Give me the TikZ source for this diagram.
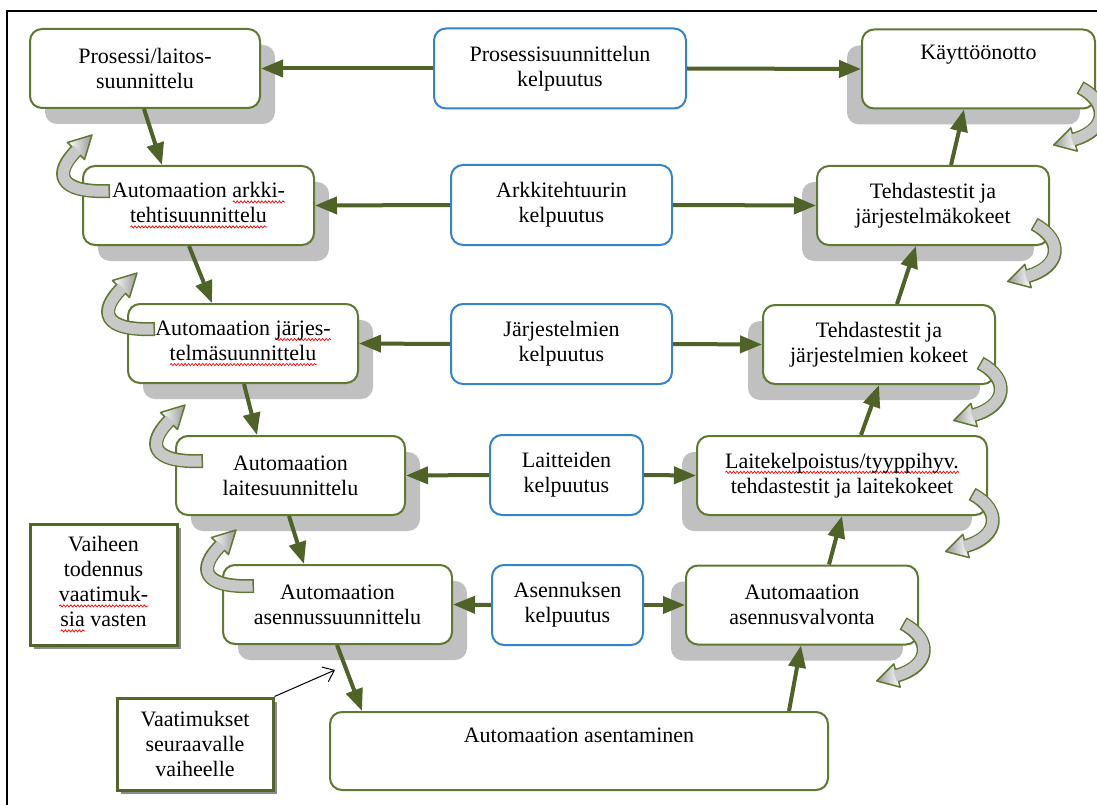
\documentclass[tikz,border=0pt]{standalone}
\usepackage{fontspec}
\setmainfont{Liberation Serif}
\usetikzlibrary{arrows.meta,shadows,decorations.pathmorphing}

\definecolor{boxgreen}{RGB}{96,120,50}
\definecolor{arrowgreen}{RGB}{79,98,40}
\definecolor{kelpblue}{RGB}{52,132,204}
\definecolor{shadowgray}{RGB}{192,192,192}
\definecolor{curlgray}{RGB}{200,200,200}

% red wavy underline (spell-check marks)
\newsavebox\spwbox
\newcommand\spw[1]{\sbox\spwbox{#1}\rlap{\tikz[baseline=0pt, x=1pt, y=1pt]
  \draw[sharp corners, red, line width=0.7pt, decorate, decoration={snake, amplitude=1.1pt, segment length=3.5pt}]
  (0,-4) -- (\the\wd\spwbox,-4);}\usebox\spwbox}

\tikzset{
  txt/.style={align=center, font=\fontsize{22}{25}\selectfont, inner sep=0pt},
  phase/.style={txt, draw=boxgreen, line width=2pt, rounded corners=12pt, fill=white, minimum height=79pt},
  lphase/.style={phase, general shadow={fill=shadowgray, shadow xshift=15pt, shadow yshift=-16pt}},
  rphase/.style={phase, general shadow={fill=shadowgray, shadow xshift=-15pt, shadow yshift=-16pt}},
  check/.style={txt, draw=kelpblue, line width=2pt, rounded corners=12pt, fill=white, minimum height=80pt},
  note/.style={txt, draw=boxgreen!85!black, line width=3pt, fill=white,
    general shadow={fill=black!45, shadow xshift=4pt, shadow yshift=-4pt}},
  flow/.style={draw=arrowgreen, line width=4pt, -{Triangle[length=22pt,width=17pt]}},
  lcurl/.pic={
    \draw[boxgreen, line width=1.5pt, line join=round, left color=white, right color=gray!80]
      (2.5,-5.5) -- (10,-30) -- (-14.5,-22.5) -- cycle;
    \draw[boxgreen, line width=14pt] (28,26) .. controls (-25,28) and (-28,8) .. (-6,-14);
    \draw[curlgray, line width=11pt, shorten <=1.5pt, shorten >=-2pt]
      (28,26) .. controls (-25,28) and (-28,8) .. (-6,-14);
  },
  rcurl/.pic={
    \draw[boxgreen, line width=1.5pt, line join=round, left color=gray!80, right color=white]
      (-18.8,41.6) -- (-42.3,35.5) -- (-25.2,18.4) -- cycle;
    \draw[boxgreen, line width=14pt] (-16,-22) .. controls (14,-6) and (11,21) .. (-22,30);
    \draw[curlgray, line width=11pt, shorten <=1.5pt, shorten >=-2pt]
      (-16,-22) .. controls (14,-6) and (11,21) .. (-22,30);
  },
}

\begin{document}
\begin{tikzpicture}[x=1pt, y={(0pt,-1pt)}]
\useasboundingbox (0,0) rectangle (1097,805);
\fill[white] (0,0) rectangle (1097,805);

% frame
\draw[line width=2pt] (7,805) -- (7,11) -- (1097,11);

% design side
\node[lphase, minimum width=230pt] (b1) at (145,68.5) {Prosessi/laitos-\\suunnittelu};
\node[lphase, minimum width=231pt] (b4) at (198.5,205.5) {Automaation \spw{arkki-}\\\spw{tehtisuunnittelu}};
\node[lphase, minimum width=230pt] (b7) at (243,343.5) {Automaation \spw{järjes-}\\\spw{telmäsuunnittelu}};
\node[lphase, minimum width=229pt] (b10) at (290.5,475.5) {Automaation\\laitesuunnittelu};
\node[lphase, minimum width=229pt] (b13) at (337.5,604.5) {Automaation\\asennussuunnittelu};

% qualification boxes
\node[check, minimum width=252pt] (b2) at (560,68.5) {Prosessisuunnittelun\\kelpuutus};
\node[check, minimum width=221pt] (b5) at (561.5,205) {Arkkitehtuurin\\kelpuutus};
\node[check, minimum width=221pt] (b8) at (561.5,344) {Järjestelmien\\kelpuutus};
\node[check, minimum width=153pt] (b11) at (566.5,475) {Laitteiden\\kelpuutus};
\node[check, minimum width=151pt] (b14) at (567.5,605) {Asennuksen\\kelpuutus};

% test side
\node[rphase, minimum width=233pt] (b3) at (978.5,69) {Käyttöönotto\\\strut};
\node[rphase, minimum width=232pt] (b6) at (933,205.5) {Tehdastestit ja\\järjestelmäkokeet};
\node[rphase, minimum width=232pt] (b9) at (879,344.5) {Tehdastestit ja\\järjestelmien kokeet};
\node[rphase, minimum width=290pt] (b12) at (842,475.5) {\spw{Laitekelpoistus/tyyppihyv.}\\tehdastestit ja laitekokeet};
\node[rphase, minimum width=232pt] (b15) at (802,605) {Automaation\\asennusvalvonta};

% installation
\node[phase, minimum width=498pt, minimum height=78pt] (b16) at (579,751) {Automaation asentaminen\\\strut};

% notes
\node[note, minimum width=147pt, minimum height=121pt] (n1) at (103.5,584.5)
  {Vaiheen\\todennus\\\spw{vaatimuk-}\\\spw{sia} vasten};
\node[note, minimum width=156pt, minimum height=92pt] (n2) at (195,744)
  {Vaatimukset\\seuraavalle\\vaiheelle};

% qualification arrows
\draw[flow] (b2.west) -- (b1.east);
\draw[flow] (b2.east) -- (b3.west);
\draw[flow] (b5.west) -- (b4.east);
\draw[flow] (b5.east) -- (b6.west);
\draw[flow] (b8.west) -- (b7.east);
\draw[flow] (b8.east) -- (b9.west);
\draw[flow] (b11.west) -- (b10.east);
\draw[flow] (b11.east) -- (b12.west);
\draw[flow] (b14.west) -- (b13.east);
\draw[flow] (b14.east) -- (b15.west);

% down the design side
\draw[flow] ([xshift=115pt]b1.south west) -- ([xshift=80pt]b4.north west);
\draw[flow] ([xshift=107pt]b4.south west) -- ([xshift=85pt]b7.north west);
\draw[flow] ([xshift=117pt]b7.south west) -- ([xshift=82pt]b10.north west);
\draw[flow] ([xshift=114pt]b10.south west) -- ([xshift=82pt]b13.north west);
\draw[flow] ([xshift=115pt]b13.south west) -- ([xshift=33pt]b16.north west);

% up the test side
\draw[flow] ([xshift=460pt]b16.north west) -- ([xshift=116pt]b15.south west);
\draw[flow] ([xshift=144pt]b15.north west) -- ([xshift=146pt]b12.south west);
\draw[flow] ([xshift=165pt]b12.north west) -- ([xshift=117pt]b9.south west);
\draw[flow] ([xshift=135pt]b9.north west) -- ([xshift=100pt]b6.south west);
\draw[flow] ([xshift=135pt]b6.north west) -- ([xshift=103pt]b3.south west);

% verification loops
\pic at (b4.north west) {lcurl};
\pic at (b7.north west) {lcurl};
\pic at (b10.north west) {lcurl};
\pic at ([xshift=4pt,yshift=4pt]b13.north west) {lcurl};
\pic at (b3.south east) {rcurl};
\pic at (b6.south east) {rcurl};
\pic at (b9.south east) {rcurl};
\pic at (b12.south east) {rcurl};
\pic at (b15.south east) {rcurl};

% requirement pointer
\coordinate (req) at (335,670);
\draw[line width=1pt, -{Straight Barb[length=10pt,width=16pt]}] (n2.north east) -- (req);
\end{tikzpicture}
\end{document}
